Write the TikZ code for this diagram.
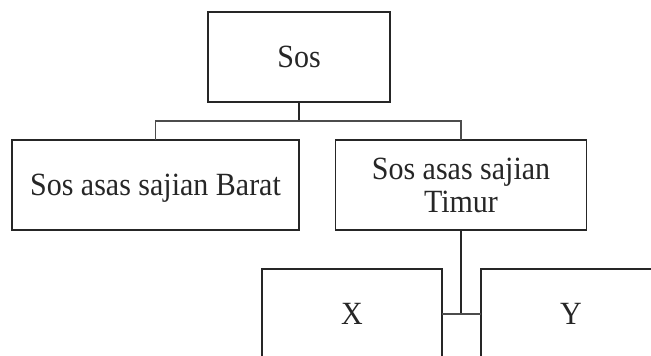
\documentclass[tikz,border=0pt]{standalone}
\usepackage{fontspec}
\usepackage{graphicx}
\setmainfont{Liberation Serif}
\newcommand{\tallt}[1]{\raisebox{-4pt}[\height][\depth]{\scalebox{1}[1.08]{\begin{tabular}{@{}c@{}}#1\end{tabular}}}}
\begin{document}
\begin{tikzpicture}[x=1pt,y=-1pt,
  box/.style={draw=black!85, line width=1.5pt, rectangle, inner sep=0pt, outer sep=0pt,
    font=\fontsize{30}{32}\selectfont, align=center, text=black!85},
  link/.style={draw=black!85, line width=1.8pt},
  thinlink/.style={draw=black!70, line width=1.2pt}]
\clip (0,0) rectangle (651,356);
\fill[white] (0,0) rectangle (651,356);
\node[box, minimum width=182pt, minimum height=90pt] (sos) at (299,57) {\tallt{Sos}};
\node[box, minimum width=287pt, minimum height=90pt] (barat) at (155.5,185) {\tallt{Sos asas sajian Barat}};
\node[box, minimum width=251pt, minimum height=90pt] (timur) at (461,185) {\tallt{Sos asas sajian\\[-2pt]Timur}};
\node[box, minimum width=180pt, minimum height=90pt] (x) at (352,314) {\tallt{X}};
\node[box, minimum width=180pt, minimum height=90pt] (y) at (571,314) {\tallt{Y}};
\coordinate (j) at (299,121);
\draw[link] (sos.south) -- (j);
\draw[thinlink] (j) -| (barat.north);
\draw[thinlink] (j) -| (timur.north);
\draw[link] (timur.south) -- (timur.south |- x.east);
\draw[thinlink] (x.east) -- (y.west);
\end{tikzpicture}
\end{document}
